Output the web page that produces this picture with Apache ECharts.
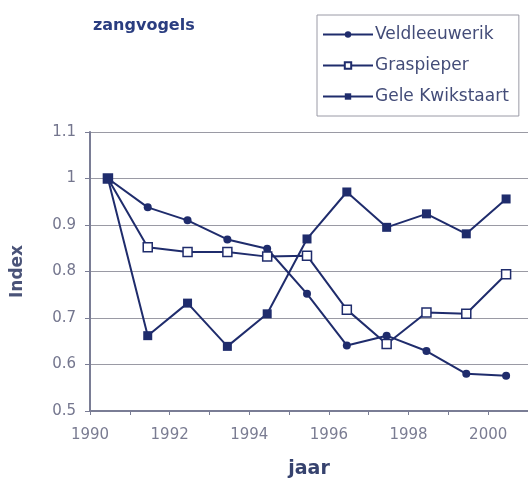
<!DOCTYPE html>
<html>
<head>
<meta charset="utf-8">
<script src="https://cdn.jsdelivr.net/npm/echarts@6/dist/echarts.min.js"></script>
<style>
html,body{margin:0;padding:0;background:#fff;}
#c{width:528px;height:485px;}
</style>
</head>
<body>
<div id="c"></div>
<script>
const titleText = 'zangvogels';
const years = [1990, 1991, 1992, 1993, 1994, 1995, 1996, 1997, 1998, 1999, 2000];
const pointOffset = 0.45;
const seriesNames = ['Veldleeuwerik', 'Graspieper', 'Gele Kwikstaart'];
const veldleeuwerik = [1.0, 0.938, 0.910, 0.869, 0.849, 0.752, 0.641, 0.662, 0.629, 0.580, 0.576];
const graspieper = [1.0, 0.852, 0.842, 0.842, 0.832, 0.834, 0.718, 0.644, 0.712, 0.709, 0.794];
const geleKwikstaart = [1.0, 0.662, 0.732, 0.639, 0.709, 0.870, 0.971, 0.895, 0.924, 0.881, 0.956];
const xLabelYears = [1990, 1992, 1994, 1996, 1998, 2000];

const navy = '#1f2c6c';
const pairs = vals => years.map((y, i) => [y + pointOffset, vals[i]]);

const chart = echarts.init(document.getElementById('c'), null, {renderer: 'canvas'});
chart.setOption({
  animation: false,
  backgroundColor: '#fff',
  title: {
    text: titleText,
    left: 88, top: 13,
    textStyle: {fontFamily: 'DejaVu Sans', fontWeight: 'bold', fontSize: 16, color: '#2a3d80'}
  },
  legend: {
    orient: 'vertical',
    left: 317, top: 15,
    padding: [11, 10, 11, 5],
    itemGap: 14,
    itemWidth: 50,
    itemHeight: 8,
    borderColor: '#9a9aa6',
    borderWidth: 1,
    backgroundColor: '#fff',
    textStyle: {fontFamily: 'DejaVu Sans', fontSize: 17, color: '#434c78', padding: [0,0,0,-3]},
    data: seriesNames
  },
  grid: {left: 90, top: 132, width: 440, height: 279, containLabel: false},
  xAxis: {
    type: 'value', min: 1990, max: 2001, interval: 1,
    name: 'jaar', nameLocation: 'middle', nameGap: 49,
    nameTextStyle: {fontFamily: 'DejaVu Sans', fontWeight: 'bold', fontSize: 19, color: '#36426e'},
    axisLine: {lineStyle: {color: '#7a7d95', width: 2}},
    axisTick: {length: 4, lineStyle: {color: '#7a7d95'}},
    splitLine: {show: false},
    axisLabel: {
      fontFamily: 'DejaVu Sans', fontSize: 15, color: '#7a7c92', margin: 17,
      showMaxLabel: false,
      formatter: v => xLabelYears.indexOf(v) >= 0 ? String(v) : ''
    }
  },
  yAxis: {
    type: 'value', min: 0.5, max: 1.1, interval: 0.1,
    name: 'Index', nameLocation: 'middle', nameGap: 64, nameRotate: 90,
    nameTextStyle: {fontFamily: 'DejaVu Sans', fontWeight: 'bold', fontSize: 17, color: '#4a5378'},
    axisLine: {show: true, lineStyle: {color: '#7a7d95', width: 2}},
    axisTick: {show: true, length: 5, lineStyle: {color: '#7a7d95'}},
    splitLine: {lineStyle: {color: '#9a9aa4', width: 1}},
    axisLabel: {
      fontFamily: 'DejaVu Sans', fontSize: 15, color: '#74768e', margin: 14,
      formatter: v => String(Math.round(v * 10) / 10)
    }
  },
  series: [
    {
      name: seriesNames[0], type: 'line', data: pairs(veldleeuwerik),
      symbol: 'circle', symbolSize: 8,
      lineStyle: {color: navy, width: 2},
      itemStyle: {color: navy}
    },
    {
      name: seriesNames[1], type: 'line', data: pairs(graspieper),
      symbol: 'rect', symbolSize: 9,
      lineStyle: {color: navy, width: 2},
      itemStyle: {color: '#fff', borderColor: navy, borderWidth: 1.5}
    },
    {
      name: seriesNames[2], type: 'line', data: pairs(geleKwikstaart),
      symbol: 'rect', symbolSize: 9,
      lineStyle: {color: navy, width: 2},
      itemStyle: {color: navy}
    }
  ]
});
</script>
</body>
</html>
